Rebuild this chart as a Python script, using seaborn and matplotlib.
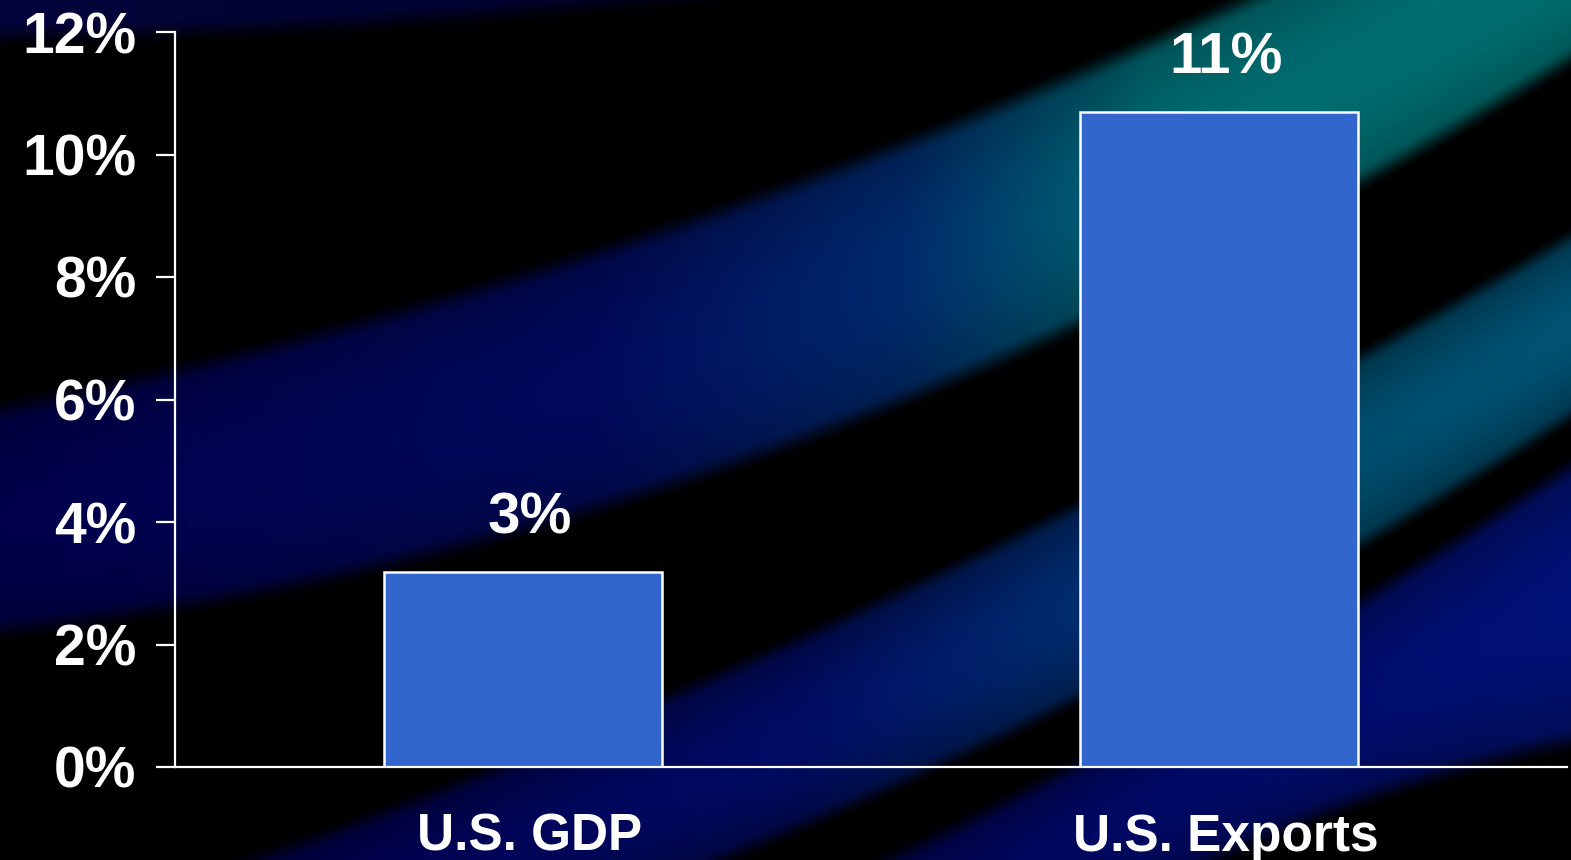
import numpy as np
import pandas as pd
import matplotlib
matplotlib.use("Agg")
import matplotlib.pyplot as plt
import matplotlib.transforms as mtransforms
import seaborn as sns

categories = ["U.S. GDP", "U.S. Exports"]
values = [3.18, 10.69]
value_labels = ["3%", "11%"]
y_ticks = [0, 2, 4, 6, 8, 10, 12]
y_tick_labels = ["0%", "2%", "4%", "6%", "8%", "10%", "12%"]

sns.set_theme(style="dark")
plt.rcParams['font.family'] = ['Liberation Sans', 'DejaVu Sans']
plt.rcParams['font.weight'] = 'bold'

W, H = 1571, 860
fig = plt.figure(figsize=(W / 100, H / 100), dpi=100)
fig.patch.set_facecolor("black")

# ---- decorative background: soft diagonal light streaks ----
yy, xx = np.mgrid[0:H, 0:W].astype(float)
img = np.zeros((H, W, 3))


def smooth(t):
    t = np.clip(t, 0, 1)
    return t * t * (3 - 2 * t)


def add_band(ex, top, bot, cx, cols, soft=18.0, inner=0.0, deg=2):
    xcol = xx[0]
    t_edge = np.polyval(np.polyfit(ex, top, deg), xcol)[None, :]
    b_edge = np.polyval(np.polyfit(ex, bot, deg), xcol)[None, :]
    a = smooth((yy - t_edge) / soft + 0.5) * smooth((b_edge - yy) / soft + 0.5)
    if inner:
        rel = (yy - t_edge) / np.maximum(b_edge - t_edge, 1)
        a = a * (1 - inner + inner * np.sin(np.clip(rel, 0, 1) * np.pi))
    cols = np.asarray(cols, float) / 255.0
    for k in range(3):
        ck = np.interp(xcol, cx, cols[:, k])[None, :]
        img[..., k] = np.maximum(img[..., k], a * ck)


# upper band (navy on the left -> teal on the right)
add_band([0, 175, 400, 800, 1100, 1357, 1571],
         [407, 370, 315, 190, 60, -60, -150],
         [640, 600, 545, 440, 330, 175, 55],
         [0, 600, 900, 1150, 1571],
         [(0, 0, 75), (0, 10, 92), (0, 42, 108), (0, 106, 112), (0, 112, 112)],
         soft=30, inner=0.25)
# middle band
add_band([300, 660, 1080, 1357, 1571],
         [850, 683, 517, 362, 230],
         [1010, 860, 717, 542, 411],
         [300, 800, 1080, 1357, 1571],
         [(0, 0, 80), (0, 12, 100), (0, 45, 110), (0, 78, 110), (0, 82, 115)],
         soft=26, inner=0.35)
# lower-right band
add_band([950, 1357, 1571],
         [830, 603, 466],
         [1000, 800, 740],
         [950, 1571],
         [(0, 5, 90), (0, 18, 120)],
         soft=30, inner=0.3)
# faint navy at the very top-left
add_band([0, 500, 900],
         [-100, -100, -100],
         [35, 12, -30],
         [0, 900],
         [(4, 4, 60), (0, 0, 40)],
         soft=30)
img = np.clip(img, 0, 1)
bg = fig.add_axes([0, 0, 1, 1], zorder=-10)
bg.imshow(img, aspect="auto", interpolation="bilinear")
bg.axis("off")

# ---- chart ----
ax = fig.add_axes([175 / W, (H - 767) / H, (1567 - 175) / W, (767 - 32) / H])
ax.set_facecolor("none")

df = pd.DataFrame({"category": categories, "value": values})
sns.barplot(data=df, x="category", y="value", color="#3366CC", width=0.4,
            edgecolor="white", linewidth=1.8, saturation=1, ax=ax)
for p in ax.patches:
    p.set_facecolor("#3366CC")

anns = ax.bar_label(ax.containers[0], labels=value_labels, padding=19,
                    color="white", fontsize=42, fontweight="bold")
for a in anns:
    a.xyann = (5, a.xyann[1])

ax.set_xlim(-0.5, 1.5)
ax.set_ylim(0, 12)
ax.set_yticks(y_ticks, y_tick_labels)
ax.set_xticks([0, 1], categories)
ax.set_xticks([-0.5, 0.5, 1.5], minor=True)
ax.tick_params(axis="x", which="major", length=0, pad=33, labelsize=37,
               labelcolor="white")
ax.tick_params(axis="x", which="minor", length=9.5, width=1.6, color="white",
               direction="out")
ax.tick_params(axis="y", length=14, width=1.6, color="white", pad=14,
               labelsize=41, labelcolor="white", direction="out", left=True)
shift = mtransforms.ScaledTranslation(5 / 72, 0, fig.dpi_scale_trans)
for lbl in ax.get_xticklabels():
    lbl.set_fontweight("bold")
    lbl.set_transform(lbl.get_transform() + shift)
for lbl in ax.get_yticklabels():
    lbl.set_fontweight("bold")
ax.set_xlabel("")
ax.set_ylabel("")
ax.grid(False)
for side in ["top", "right"]:
    ax.spines[side].set_visible(False)
for side in ["left", "bottom"]:
    ax.spines[side].set_visible(True)
    ax.spines[side].set_color("white")
    ax.spines[side].set_linewidth(1.6)

fig.savefig("out.png", dpi=100, facecolor="black")
